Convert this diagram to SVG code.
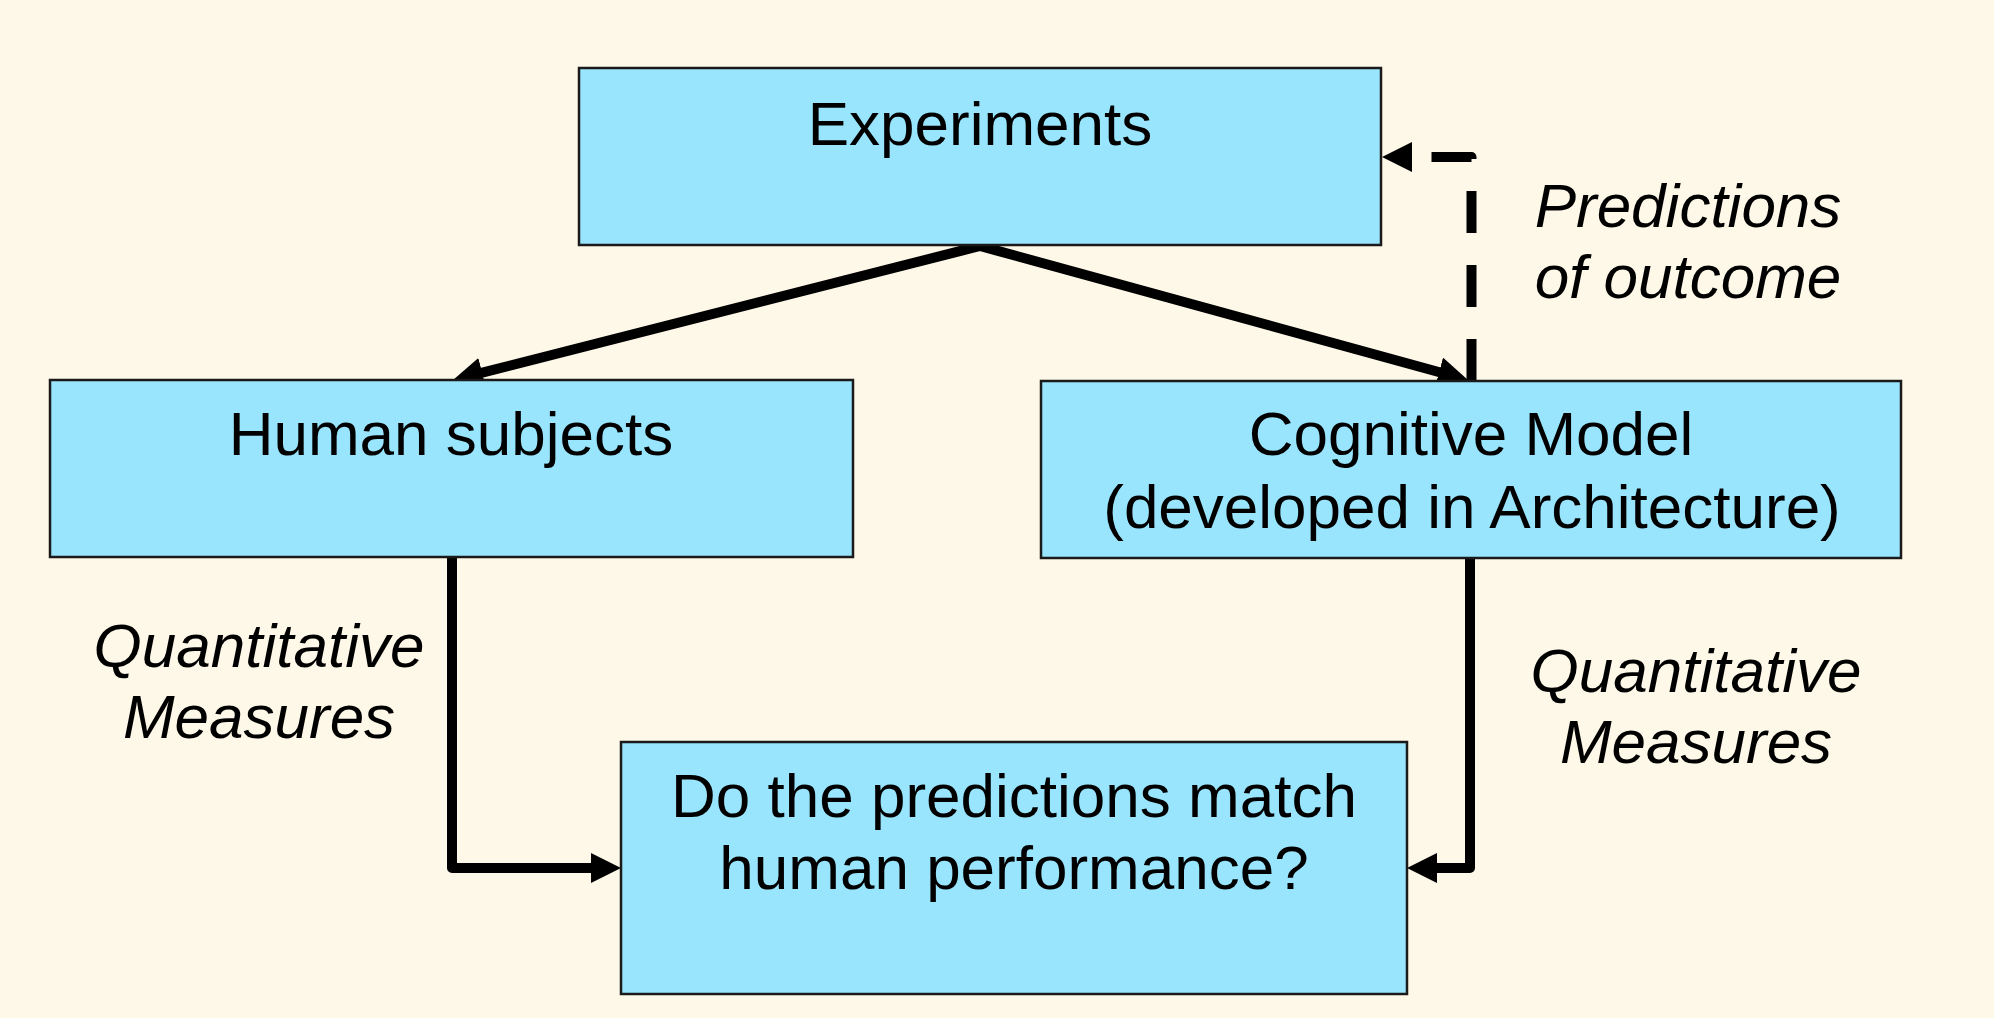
<svg xmlns="http://www.w3.org/2000/svg" width="1994" height="1018" viewBox="0 0 1994 1018">
  <style>
    .box { fill: #99e5fd; stroke: #1a1a1a; stroke-width: 2.5; }
    .lbl { font-family: "Liberation Sans", Arial, sans-serif; font-size: 62px; fill: #000; text-anchor: middle; }
    .it { font-style: italic; }
    .conn { fill: none; stroke: #000; stroke-width: 10; }
  </style>
  <defs>
    <marker id="ah" markerUnits="userSpaceOnUse" markerWidth="30" markerHeight="30" refX="10" refY="15" orient="auto-start-reverse">
      <path d="M0,0 L30,15 L0,30 Z" fill="#000"/>
    </marker>
  </defs>
  <rect width="1994" height="1018" fill="#fef8e8"/>

  <g id="connectors">
    <path class="conn" d="M472.4,375.1 L980,246 L1448.7,374.7" stroke-linejoin="miter" marker-start="url(#ah)" marker-end="url(#ah)"/>
    <path class="conn" d="M452,557 L452,868 L601,868" stroke-linejoin="round" marker-end="url(#ah)"/>
    <path class="conn" d="M1470,558 L1470,868 L1427,868" stroke-linejoin="round" marker-end="url(#ah)"/>
    <path class="conn" d="M1471.5,381 L1471.5,157 L1402,157" stroke-dasharray="42 32" stroke-linejoin="round" marker-end="url(#ah)"/>
  </g>

  <g id="experiments">
    <rect class="box" x="579" y="68" width="802" height="177"/>
    <text class="lbl" x="980" y="145">Experiments</text>
  </g>

  <g id="human-subjects">
    <rect class="box" x="50" y="380" width="803" height="177"/>
    <text class="lbl" x="451" y="455">Human subjects</text>
  </g>

  <g id="cognitive-model">
    <rect class="box" x="1041" y="381" width="860" height="177"/>
    <text class="lbl" x="1471" y="455">Cognitive Model</text>
    <text class="lbl" x="1472" y="528">(developed in Architecture)</text>
  </g>

  <g id="match">
    <rect class="box" x="621" y="742" width="786" height="252"/>
    <text class="lbl" x="1014" y="817">Do the predictions match</text>
    <text class="lbl" x="1014" y="889">human performance?</text>
  </g>

  <g id="labels">
    <text class="lbl it" x="1688" y="227">Predictions</text>
    <text class="lbl it" x="1688" y="298">of outcome</text>
    <text class="lbl it" x="259" y="667">Quantitative</text>
    <text class="lbl it" x="259" y="738">Measures</text>
    <text class="lbl it" x="1696" y="692">Quantitative</text>
    <text class="lbl it" x="1696" y="763">Measures</text>
  </g>
</svg>
